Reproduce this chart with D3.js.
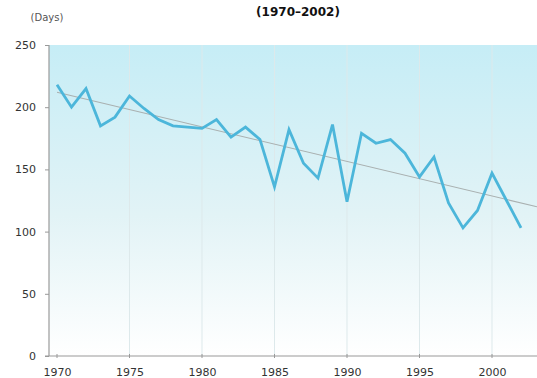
<!DOCTYPE html>
<html>
<head>
<meta charset="utf-8">
<script src="https://cdn.jsdelivr.net/npm/d3@7"></script>
<style>
  html, body { margin: 0; padding: 0; background: #fff; }
  svg { display: block; }
  .tick text { font-family: "DejaVu Sans", sans-serif; }
</style>
</head>
<body>
<svg id="chart" width="537" height="378"></svg>
<script>
// Annual days (1970–2002)
const years = [1970,1971,1972,1973,1974,1975,1976,1977,1978,1979,1980,1981,1982,1983,1984,1985,1986,1987,1988,1989,1990,1991,1992,1993,1994,1995,1996,1997,1998,1999,2000,2001,2002];
const days  = [218,200,215,185,192,209,199,190,185,184,183,190,176,184,174,136,182,155,143,186,124,179,171,174,163,144,160,123,103,117,147,125,103];

// Linear trend endpoints
const trendYears = [1970, 2003.1];
const trendDays  = [212, 120];

const xTicks = [1970, 1975, 1980, 1985, 1990, 1995, 2000];
const yTicks = [0, 50, 100, 150, 200, 250];

const svg = d3.select("#chart");
const plotLeft = 49, plotRight = 537, plotTop = 45, plotBottom = 356;

const x = d3.scaleLinear().domain([1970, 2000]).range([57, 492]);
const y = d3.scaleLinear().domain([0, 250]).range([plotBottom, plotTop]);

// Background gradient
const defs = svg.append("defs");
const grad = defs.append("linearGradient").attr("id", "bg").attr("x1", 0).attr("y1", 0).attr("x2", 0).attr("y2", 1);
grad.append("stop").attr("offset", "0%").attr("stop-color", "#c6edf6");
grad.append("stop").attr("offset", "55%").attr("stop-color", "#e2f3f6");
grad.append("stop").attr("offset", "100%").attr("stop-color", "#ffffff");

svg.append("rect")
  .attr("x", plotLeft).attr("y", plotTop)
  .attr("width", plotRight - plotLeft).attr("height", plotBottom - plotTop)
  .attr("fill", "url(#bg)");

// Vertical grid lines
svg.append("g").selectAll("line")
  .data(xTicks.slice(1))
  .join("line")
  .attr("x1", d => x(d)).attr("x2", d => x(d))
  .attr("y1", plotTop).attr("y2", plotBottom)
  .attr("stroke", "#dde9eb").attr("stroke-width", 1);

// Axes
const yAxis = d3.axisLeft(y).tickValues(yTicks).tickSize(4).tickPadding(9);
const gy = svg.append("g").attr("transform", `translate(${plotLeft},0)`).call(yAxis);
gy.select(".domain").remove();
gy.selectAll(".tick line").attr("stroke", "#999");
gy.selectAll(".tick text").attr("fill", "#333").attr("font-size", 11);

svg.append("line")
  .attr("x1", plotLeft).attr("x2", plotLeft)
  .attr("y1", plotTop).attr("y2", plotBottom)
  .attr("stroke", "#9a9a9a").attr("stroke-width", 1.2);

const xAxis = d3.axisBottom(x).tickValues(xTicks).tickFormat(d3.format("d")).tickSize(0).tickPadding(12);
const gx = svg.append("g").attr("transform", `translate(0,${plotBottom})`).call(xAxis);
gx.select(".domain").remove();
gx.selectAll(".tick text").attr("fill", "#333").attr("font-size", 11);

svg.append("line")
  .attr("x1", plotLeft - 4).attr("x2", plotRight)
  .attr("y1", plotBottom).attr("y2", plotBottom)
  .attr("stroke", "#9a9a9a").attr("stroke-width", 1.2);

svg.append("g").selectAll("line")
  .data(xTicks)
  .join("line")
  .attr("x1", d => x(d)).attr("x2", d => x(d))
  .attr("y1", plotBottom - 2).attr("y2", plotBottom + 2)
  .attr("stroke", "#9a9a9a");

// Trend line
const trend = trendYears.map((t, i) => [t, trendDays[i]]);
svg.append("path")
  .datum(trend)
  .attr("d", d3.line().x(d => x(d[0])).y(d => y(d[1])))
  .attr("fill", "none")
  .attr("stroke", "#a9b0b0")
  .attr("stroke-width", 1.1);

// Data line
const series = years.map((t, i) => [t, days[i]]);
svg.append("path")
  .datum(series)
  .attr("d", d3.line().x(d => x(d[0])).y(d => y(d[1])))
  .attr("fill", "none")
  .attr("stroke", "#4cb6da")
  .attr("stroke-width", 2.8)
  .attr("stroke-linejoin", "miter");

// Titles
svg.append("text")
  .attr("x", 298).attr("y", 16)
  .attr("text-anchor", "middle")
  .attr("font-family", "DejaVu Sans, sans-serif")
  .attr("font-weight", "bold")
  .attr("font-size", 12)
  .attr("fill", "#111")
  .text("(1970–2002)");

svg.append("text")
  .attr("x", 47).attr("y", 21)
  .attr("text-anchor", "middle")
  .attr("font-family", "DejaVu Sans, sans-serif")
  .attr("font-size", 10)
  .attr("fill", "#555")
  .text("(Days)");
</script>
</body>
</html>
